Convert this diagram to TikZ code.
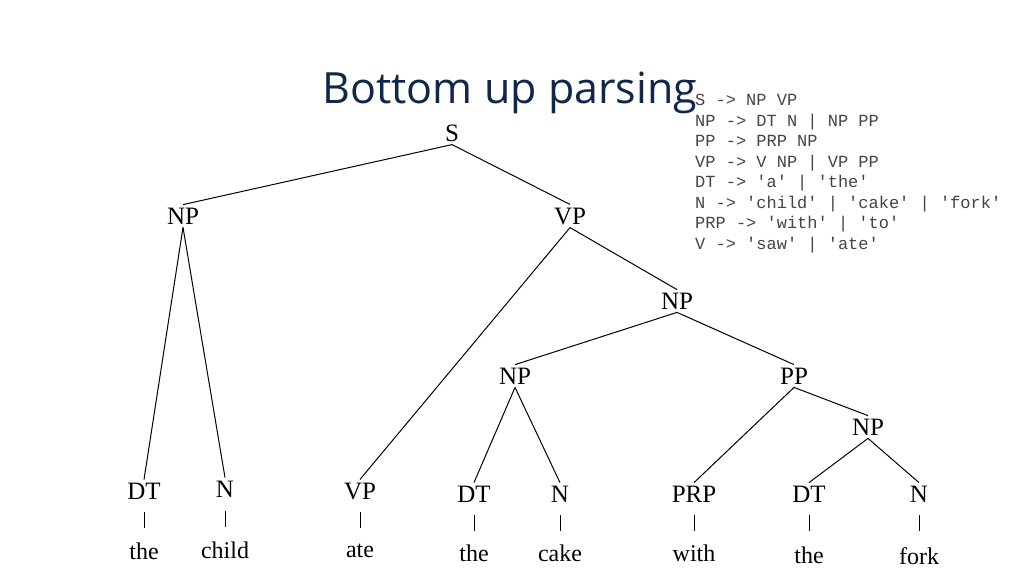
\documentclass[tikz,border=0pt]{standalone}
\usepackage{fontspec}
\setmainfont{Liberation Serif}
\newfontfamily\titlefont{Open Sans}
\newfontfamily\gramfont{Liberation Mono}
\definecolor{navy}{HTML}{10264A}
\definecolor{gram}{HTML}{444444}
\begin{document}
\begin{tikzpicture}[x=1pt,y=-1pt,
  t/.style={font=\fontsize{25}{25}\selectfont,inner sep=3pt},
  w/.style={font=\fontsize{24}{24}\selectfont,inner sep=1pt},
  e/.style={line width=1pt},
  bar/.style={line width=1pt}]
\useasboundingbox (0,0) rectangle (1024,576);
\node[font=\titlefont\fontsize{43}{43}\selectfont,text=navy] (title) at (510,93) {Bottom up parsing};
\node[font=\gramfont\fontsize{17}{20.5}\selectfont,text=gram,anchor=north west,align=left,inner sep=0] (gr) at (695,94)
{S -> NP VP\\NP -> DT N | NP PP\\PP -> PRP NP\\VP -> V NP | VP PP\\DT -> 'a' | 'the'\\N -> 'child' | 'cake' | 'fork'\\PRP -> 'with' | 'to'\\V -> 'saw' | 'ate'};
\node[t] (s) at (452,133) {S};
\node[t] (np1) at (183,216) {NP};
\node[t] (vp1) at (570,216) {VP};
\node[t] (np2) at (677,301) {NP};
\node[t] (np3) at (515,376) {NP};
\node[t] (pp) at (794,376) {PP};
\node[t] (np4) at (868,427) {NP};
\node[t] (dt1) at (144,491) {DT};
\node[t] (n1) at (225,489) {N};
\node[t] (vp2) at (360,491) {VP};
\node[t] (dt2) at (474,494) {DT};
\node[t] (n2) at (560,494) {N};
\node[t] (prp) at (694,494) {PRP};
\node[t] (dt3) at (809,494) {DT};
\node[t] (n3) at (919,494) {N};
\node[w] (w1) at (144,551) {the};
\node[w] (w2) at (225,550) {child};
\node[w] (w3) at (360,551) {ate};
\node[w] (w4) at (474,553) {the};
\node[w] (w5) at (560,553) {cake};
\node[w] (w6) at (694,553) {with};
\node[w] (w7) at (809,555) {the};
\node[w] (w8) at (919,556) {fork};
\draw[e] (s.south) -- (np1.north);
\draw[e] (s.south) -- (vp1.north);
\draw[e] (np1.south) -- (dt1.north);
\draw[e] (np1.south) -- (n1.north);
\draw[e] (vp1.south) -- (vp2.north);
\draw[e] (vp1.south) -- (np2.north);
\draw[e] (np2.south) -- (np3.north);
\draw[e] (np2.south) -- (pp.north);
\draw[e] (np3.south) -- (dt2.north);
\draw[e] (np3.south) -- (n2.north);
\draw[e] (pp.south) -- (prp.north);
\draw[e] (pp.south) -- (np4.north);
\draw[e] (np4.south) -- (dt3.north);
\draw[e] (np4.south) -- (n3.north);
\foreach \a/\b/\x/\y in {dt1/w1/144/512,n1/w2/225/511,vp2/w3/360/512,dt2/w4/474/515,n2/w5/560/515,prp/w6/694/515,dt3/w7/809/515,n3/w8/919/515}{
  \draw[bar] (\x,\y) -- (\x,\y+16);
}
\end{tikzpicture}
\end{document}
